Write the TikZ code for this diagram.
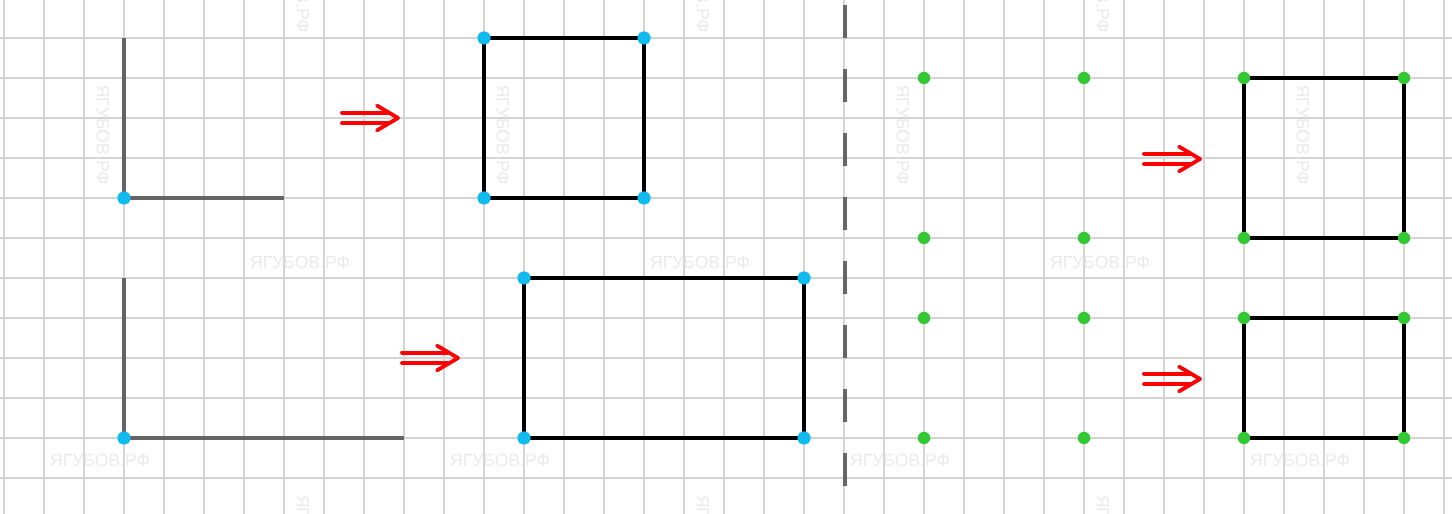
\documentclass[tikz,border=0pt]{standalone}
\usepackage{fontspec}
\newfontfamily\wmfont{Liberation Sans}
\usetikzlibrary{positioning}
\definecolor{gridgray}{RGB}{212,212,212}
\definecolor{wmgray}{RGB}{234,234,234}
\definecolor{legray}{RGB}{100,100,100}
\definecolor{ptcyan}{RGB}{18,186,242}
\definecolor{ptgreen}{RGB}{50,200,50}

\begin{document}
\begin{tikzpicture}[
  gridline/.style={draw=gridgray, line width=1.1pt},
  legline/.style={draw=legray, line width=2.8pt},
  figline/.style={draw=black, line width=2.8pt, line join=miter},
  bluedot/.style={fill=ptcyan},
  greendot/.style={fill=ptgreen},
  implies/.style={draw=red, line width=2.7pt, line cap=round, line join=round},
  wmark/.style={text=wmgray, font=\wmfont\fontsize{12.5}{12.5}\selectfont, inner sep=0pt},
  divider/.style={draw=black!60, line width=2.8pt, dash pattern=on 0.825cm off 0.775cm}
]
\useasboundingbox (-0.1,-0.9) rectangle (36.2,11.95);
\clip (-0.1,-0.9) rectangle (36.2,11.95);
\fill[white] (-0.1,-0.9) rectangle (36.2,11.95);

% grid paper
\foreach \x in {0,...,36} \draw[gridline] (\x,-0.9) -- (\x,11.95);
\foreach \y in {0,...,11} \draw[gridline] (-0.1,\y) -- (36.2,\y);

% watermarks
\foreach \x [count=\i] in {7.4,17.4,27.4}
  \node[wmark] (wma\i) at (\x,5.4) {ЯГУБОВ.РФ};
\foreach \x [count=\i] in {2.4,12.4,22.4,32.4}
  \node[wmark] (wmb\i) at (\x,0.45) {ЯГУБОВ.РФ};
\foreach \x [count=\i] in {2.475,12.475,22.475,32.475}
  \node[wmark, rotate=-90] (wmc\i) at (\x,8.575) {ЯГУБОВ.РФ};
\foreach \x [count=\i] in {7.475,17.475,27.475} {
  \node[wmark, rotate=-90] (wmt\i) at (\x,12.375) {ЯГУБОВ.РФ};
  \node[wmark, rotate=-90] (wmd\i) at (\x,-1.675) {ЯГУБОВ.РФ};
}

% dividing line
\coordinate (divtop) at (21.025,11.825);
\coordinate (divbot) at (21.025,-0.3);
\draw[divider] (divtop) -- (divbot);

% left half: legs -> rectangles
\coordinate (la1) at (3,11);
\coordinate (la2) at (3,7);
\coordinate (la3) at (7,7);
\draw[legline] (la1) -- (la2) -- (la3);

\coordinate (lb1) at (3,5);
\coordinate (lb2) at (3,1);
\coordinate (lb3) at (10,1);
\draw[legline] (lb1) -- (lb2) -- (lb3);

\coordinate (sq1) at (12,11);
\coordinate (sq2) at (16,11);
\coordinate (sq3) at (16,7);
\coordinate (sq4) at (12,7);
\draw[figline] (sq1) -- (sq2) -- (sq3) -- (sq4) -- cycle;

\coordinate (re1) at (13,5);
\coordinate (re2) at (20,5);
\coordinate (re3) at (20,1);
\coordinate (re4) at (13,1);
\draw[figline] (re1) -- (re2) -- (re3) -- (re4) -- cycle;

\foreach \p in {la2,lb2,sq1,sq2,sq3,sq4,re1,re2,re3,re4}
  \fill[bluedot] (\p) circle (0.165);

% right half: four points -> rectangles
\coordinate (pa1) at (23,10);
\coordinate (pa2) at (27,10);
\coordinate (pa3) at (27,6);
\coordinate (pa4) at (23,6);
\coordinate (pb1) at (23,4);
\coordinate (pb2) at (27,4);
\coordinate (pb3) at (27,1);
\coordinate (pb4) at (23,1);

\coordinate (qa1) at (31,10);
\coordinate (qa2) at (35,10);
\coordinate (qa3) at (35,6);
\coordinate (qa4) at (31,6);
\draw[figline] (qa1) -- (qa2) -- (qa3) -- (qa4) -- cycle;

\coordinate (qb1) at (31,4);
\coordinate (qb2) at (35,4);
\coordinate (qb3) at (35,1);
\coordinate (qb4) at (31,1);
\draw[figline] (qb1) -- (qb2) -- (qb3) -- (qb4) -- cycle;

\foreach \p in {pa1,pa2,pa3,pa4,pb1,pb2,pb3,pb4,qa1,qa2,qa3,qa4,qb1,qb2,qb3,qb4}
  \fill[greendot] (\p) circle (0.155);

% double arrows
\foreach \ax/\ay [count=\i] in {8.45/9, 9.95/3, 28.5/7.975, 28.5/2.475} {
  \coordinate (arr\i) at (\ax,\ay);
  \draw[implies] ([yshift=0.13cm]arr\i) -- ++(1.15,0);
  \draw[implies] ([yshift=-0.13cm]arr\i) -- ++(1.15,0);
  \draw[implies] ([shift={(0.875,0.31)}]arr\i) -- ([xshift=1.4cm]arr\i) -- ([shift={(0.875,-0.31)}]arr\i);
}

\end{tikzpicture}
\end{document}
